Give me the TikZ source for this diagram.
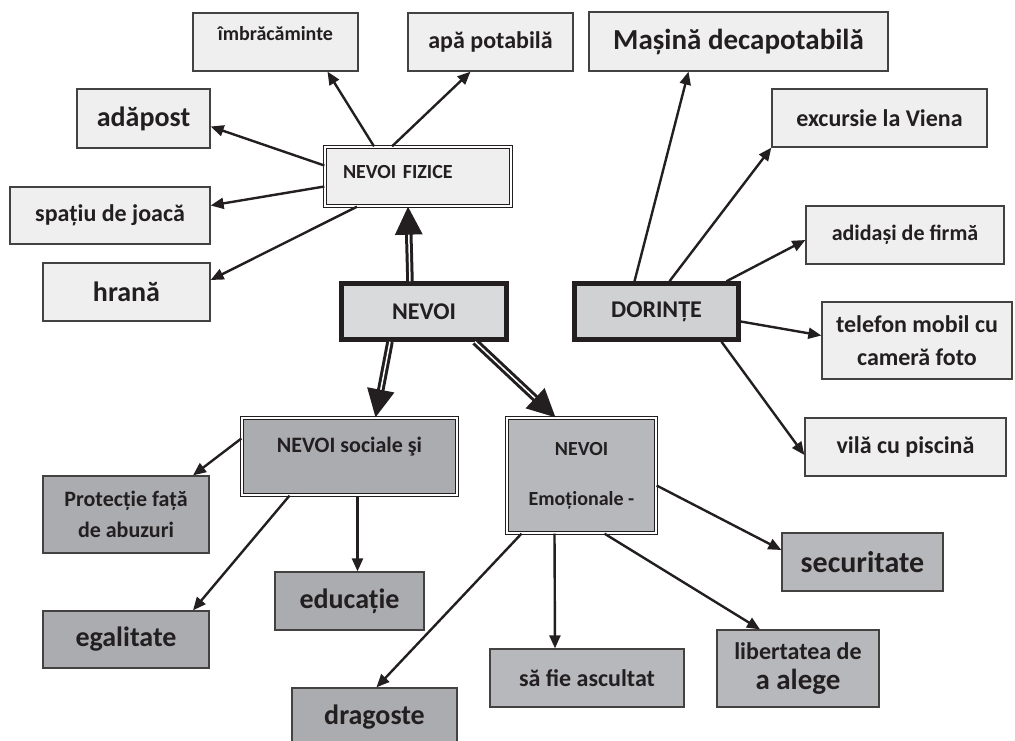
\documentclass[tikz,border=0pt]{standalone}
\usepackage{fontspec}
\setmainfont{Carlito}
\usepackage{tikz}
\usetikzlibrary{arrows.meta}

\definecolor{ink}{HTML}{231F20}
\definecolor{boxlight}{HTML}{EFEFF0}
\definecolor{boxmid}{HTML}{D9DADC}
\definecolor{boxmidd}{HTML}{D0D1D3}
\definecolor{boxdark}{HTML}{ABACAF}
\definecolor{boxgrey}{HTML}{B7B8BB}

\begin{document}
\begin{tikzpicture}[x=1pt,y=-1pt,>={Triangle[length=13pt,width=11pt]},
                    text=ink]
  \tikzstyle{leaf}=[draw=ink!85,line width=1.3pt,fill=boxlight,inner sep=0pt]
  \tikzstyle{low}=[leaf,fill=boxdark]
  \tikzstyle{dbox}=[draw=ink,double=white,line width=1.3pt,double distance=1.4pt,inner sep=0pt]
  \tikzstyle{heavy}=[draw=ink,line width=4.5pt,inner sep=0pt]
  \tikzstyle{bigtxt}=[font=\bfseries\fontsize{28}{32}\selectfont]
  \tikzstyle{midtxt}=[font=\bfseries\fontsize{24}{29}\selectfont]
  \tikzstyle{link}=[->,draw=ink,line width=2.4pt]
  \tikzstyle{bigarrow}=[draw=ink,double=white,line width=3pt,double distance=1.5pt,
                        -{Triangle[length=28pt,width=27pt]}]

  \path[use as bounding box,fill=white] (0,0) rectangle (1015,740);

  % nevoi fizice
  \node[leaf,font=\bfseries\fontsize{20}{24}\selectfont,minimum width=165pt,
        text height=27pt,text depth=31pt] (imbr) at (275.5,42) {îmbrăcăminte};
  \node[leaf,midtxt,minimum width=165pt,minimum height=58pt] (apa) at (490.5,42) {apă potabilă};
  \node[leaf,bigtxt,minimum width=133pt,minimum height=59pt] (adapost) at (143.5,118.5) {adăpost};
  \node[leaf,midtxt,minimum width=200pt,minimum height=57pt] (spatiu) at (110,215.5) {spațiu de joacă};
  \node[leaf,bigtxt,minimum width=167pt,minimum height=58pt] (hrana) at (126.5,292) {hrană};
  \node[dbox,fill=boxlight,font=\bfseries\fontsize{20}{24}\selectfont,text width=150pt,
        align=left,inner xsep=18pt,text height=31pt,text depth=28pt] (fiz) at (418,176.5) {NEVOI FIZICE};

  % centru
  \node[heavy,fill=boxmid,midtxt,minimum width=165pt,minimum height=56pt] (nevoi) at (424,311.5) {NEVOI};
  \node[heavy,fill=boxmidd,midtxt,minimum width=164pt,minimum height=56pt] (dorinte) at (656.5,311.5) {DORINȚE};

  % dorinte
  \node[leaf,font=\bfseries\fontsize{29}{33}\selectfont,minimum width=299pt,minimum height=59pt]
        (masina) at (738.5,41.5) {Mașină decapotabilă};
  \node[leaf,midtxt,minimum width=215pt,minimum height=58pt] (excursie) at (879.5,118) {excursie la Viena};
  \node[leaf,font=\bfseries\fontsize{22}{26}\selectfont,minimum width=198pt,minimum height=58pt]
        (adidasi) at (905,235) {adidași de firmă};
  \node[leaf,midtxt,minimum width=190pt,minimum height=77pt,align=center] (telefon) at (917,340.5)
        {telefon mobil cu\\[4pt]cameră foto};
  \node[leaf,midtxt,minimum width=201pt,minimum height=58pt] (vila) at (905.5,447) {vilă cu piscină};

  % nevoi sociale
  \node[dbox,fill=boxdark,font=\bfseries\fontsize{22}{26}\selectfont,minimum width=215pt,
        text height=34pt,text depth=43pt] (sociale) at (349.5,456.5) {NEVOI sociale şi};
  \node[low,font=\bfseries\fontsize{22}{26}\selectfont,minimum width=166pt,minimum height=77pt,
        align=center] (protectie) at (126,514.5) {Protecție față\\[5pt]de abuzuri};
  \node[low,bigtxt,minimum width=166pt,minimum height=57pt] (egalitate) at (126,639.5) {egalitate};
  \node[low,bigtxt,minimum width=149pt,minimum height=58pt] (educatie) at (349.5,601) {educație};

  % nevoi emotionale
  \node[dbox,fill=boxgrey,font=\bfseries\fontsize{20}{24}\selectfont,minimum width=149pt,
        minimum height=115pt,align=center] (emot) at (581.5,475.5) {NEVOI\\[26pt]Emoționale -};
  \node[low,bigtxt,minimum width=165pt,minimum height=58pt] (dragoste) at (374.5,717) {dragoste};
  \node[low,fill=boxgrey,midtxt,minimum width=194pt,minimum height=58pt] (asculta) at (587,678) {să fie ascultat};
  \node[low,fill=boxgrey,midtxt,minimum width=162pt,minimum height=77pt,align=center]
        (libertate) at (798,668.5) {libertatea de\\[1pt]{\fontsize{29}{33}\selectfont a alege}};
  \node[low,fill=boxgrey,font=\bfseries\fontsize{30}{34}\selectfont,minimum width=161pt,
        minimum height=58pt] (securitate) at (862.5,562) {securitate};

  % sageti mari
  \draw[bigarrow] ([xshift=-14pt]nevoi.north) -- ([xshift=-10pt]fiz.south);
  \draw[bigarrow] ([xshift=-34pt]nevoi.south) -- ([xshift=26pt]sociale.north);
  \draw[bigarrow] ([xshift=51pt]nevoi.south) -- ([xshift=-26pt]emot.north);

  % sageti
  \draw[link] ([xshift=-44pt]fiz.north) -- ([xshift=52pt]imbr.south);
  \draw[link] ([xshift=-26pt]fiz.north) -- ([xshift=-20pt]apa.south);
  \draw[link] ([yshift=11pt]fiz.west) -- ([yshift=-8pt]adapost.east);
  \draw[link] ([yshift=-10pt]fiz.west) -- ([yshift=10pt]spatiu.east);
  \draw[link] ([xshift=-61pt]fiz.south) -- ([yshift=12pt]hrana.east);

  \draw[link] ([xshift=-22pt]dorinte.north) -- ([xshift=-50pt]masina.south);
  \draw[link] ([xshift=13pt]dorinte.north) -- (excursie.south west);
  \draw[link] ([xshift=70pt]dorinte.north) -- ([yshift=-5pt]adidasi.west);
  \draw[link] ([yshift=-10pt]dorinte.east) -- ([yshift=5pt]telefon.west);
  \draw[link] ([xshift=65pt]dorinte.south) -- ([yshift=-8pt]vila.west);

  \draw[link] ([yshift=18pt]sociale.west) -- ([xshift=67pt]protectie.north);
  \draw[link] ([xshift=-60pt]sociale.south) -- ([xshift=67pt]egalitate.north);
  \draw[link] ([xshift=8pt]sociale.south) -- ([xshift=8pt]educatie.north);

  \draw[link] ([xshift=-60pt]emot.south) -- ([xshift=2pt]dragoste.north);
  \draw[link] ([xshift=-27pt]emot.south) -- ([xshift=-32pt]asculta.north);
  \draw[link] ([xshift=23pt]emot.south) -- ([xshift=-38pt]libertate.north);
  \draw[link] ([yshift=-10pt]emot.east) -- ([yshift=12pt]securitate.west);
\end{tikzpicture}
\end{document}
